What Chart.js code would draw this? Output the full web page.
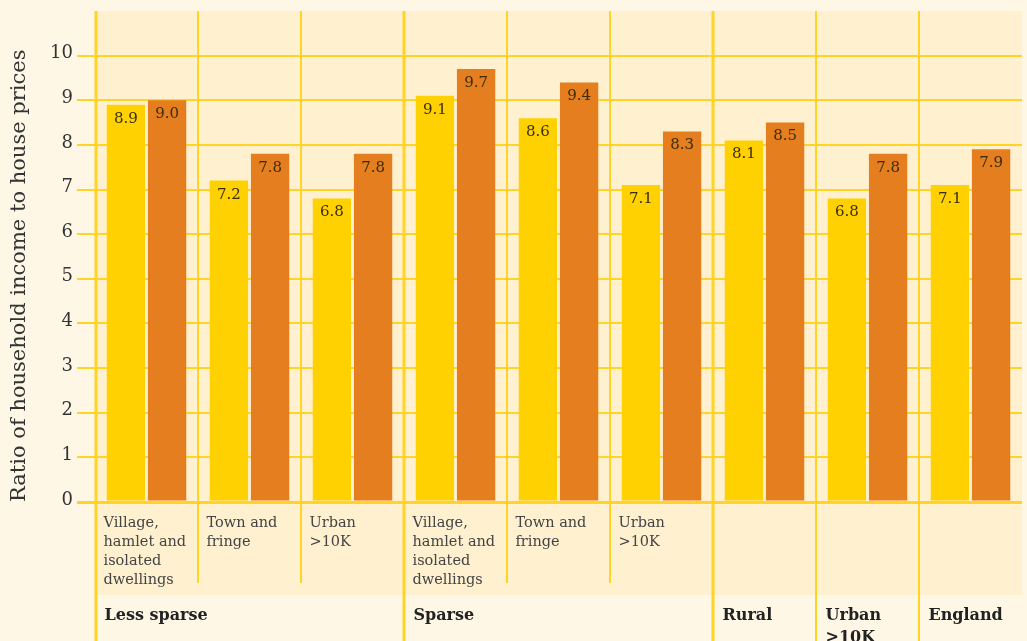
<!DOCTYPE html>
<html>
<head>
<meta charset="utf-8">
<script src="https://cdn.jsdelivr.net/npm/chart.js@4"></script>
<style>
  html, body { margin: 0; padding: 0; background: #FEF7E5; }
  #grafica { width: 1027px; height: 641px; }
</style>
</head>
<body>
<div id="grafica"><canvas id="myChart"></canvas></div>
<script>
const categories = [
  ["Village,", "hamlet and", "isolated", "dwellings"],
  ["Town and", "fringe"],
  ["Urban", ">10K"],
  ["Village,", "hamlet and", "isolated", "dwellings"],
  ["Town and", "fringe"],
  ["Urban", ">10K"],
  "",
  "",
  ""
];
const groups = ["Less sparse", "", "", "Sparse", "", "", "Rural", ["Urban", ">10K"], "England"];
const seriesYellow = [8.9, 7.2, 6.8, 9.1, 8.6, 7.1, 8.1, 6.8, 7.1];
const seriesOrange = [9.0, 7.8, 7.8, 9.7, 9.4, 8.3, 8.5, 7.8, 7.9];
const yTicks = [0, 1, 2, 3, 4, 5, 6, 7, 8, 9, 10];
// index of the first category in each group
const groupStarts = [0, 3, 6, 7, 8];

const FONT = "'DejaVu Serif', serif";
const LINE = "#FFD424";

const backdrop = {
  id: "backdrop",
  beforeDraw(chart) {
    const { ctx, chartArea: a } = chart;
    const xs = chart.scales.x;
    ctx.save();
    ctx.fillStyle = "#FEF7E5";
    ctx.fillRect(0, 0, chart.width, chart.height);
    ctx.fillStyle = "#FFF1D0";
    ctx.fillRect(a.left, a.top, a.right - a.left, xs.bottom - a.top);
    ctx.restore();
  },
  beforeDatasetsDraw(chart) {
    const { ctx, chartArea: a } = chart;
    const xs = chart.scales.x;
    ctx.save();
    ctx.strokeStyle = LINE;
    for (let i = 0; i < categories.length; i++) {
      const x = i === 0 ? a.left + 1 : (xs.getPixelForValue(i - 1) + xs.getPixelForValue(i)) / 2;
      const full = groupStarts.includes(i);
      const major = i === 0 || i === 3 || i === 6;
      ctx.lineWidth = major ? 3 : 2;
      ctx.beginPath();
      ctx.moveTo(x, a.top);
      ctx.lineTo(x, full ? chart.height : xs.bottom - 12);
      ctx.stroke();
    }
    ctx.restore();
  },
  afterDatasetsDraw(chart) {
    const { ctx } = chart;
    ctx.save();
    ctx.font = "15px " + FONT;
    ctx.fillStyle = "#3a2c08";
    ctx.textAlign = "center";
    ctx.textBaseline = "middle";
    chart.data.datasets.forEach((ds, di) => {
      chart.getDatasetMeta(di).data.forEach((bar, i) => {
        ctx.fillText(ds.data[i].toFixed(1), bar.x, bar.y + 14);
      });
    });
    ctx.restore();
  }
};

function noPad(s) {
  s.paddingLeft = 0;
  s.paddingRight = 0;
  s.paddingTop = 0;
  s.paddingBottom = 0;
}

const ctx = document.getElementById("myChart");
new Chart(ctx, {
  type: "bar",
  data: {
    labels: categories,
    datasets: [
      { label: "A", data: seriesYellow, backgroundColor: "#FFD100" },
      { label: "B", data: seriesOrange, backgroundColor: "#E57E1E" }
    ]
  },
  plugins: [backdrop],
  options: {
    responsive: true,
    maintainAspectRatio: false,
    animation: false,
    categoryPercentage: 0.8,
    barPercentage: 0.93,
    layout: { padding: { top: 11, right: 5, left: 0, bottom: 0 } },
    plugins: {
      legend: { display: false },
      tooltip: { enabled: false }
    },
    scales: {
      y: {
        min: 0,
        max: 11,
        afterBuildTicks: (s) => { s.ticks = yTicks.map(v => ({ value: v })); },
        afterFit: (s) => { s.width = 95; noPad(s); },
        border: { display: false },
        grid: {
          color: LINE,
          lineWidth: (c) => (c.tick && c.tick.value === 0 ? 3 : 2),
          tickLength: 18
        },
        ticks: {
          color: "#333",
          padding: 4,
          labelOffset: -2,
          font: { family: FONT, size: 18 }
        },
        title: {
          display: true,
          text: "Ratio of household income to house prices",
          align: "start",
          color: "#333",
          padding: { top: 7, bottom: 0 },
          font: { family: FONT, size: 21 }
        }
      },
      x: {
        weight: 0,
        afterFit: (s) => { s.height = 93; noPad(s); },
        border: { display: false },
        grid: { display: false, drawTicks: false },
        ticks: {
          autoSkip: false,
          maxRotation: 0,
          align: "start",
          labelOffset: -43,
          padding: 12,
          color: "#444",
          font: { family: FONT, size: 14.5, lineHeight: 1.31 }
        }
      },
      x2: {
        type: "category",
        labels: groups,
        offset: true,
        weight: 1,
        position: "bottom",
        afterFit: (s) => { s.height = 46; noPad(s); },
        border: { display: false },
        grid: { display: false, drawTicks: false },
        ticks: {
          autoSkip: false,
          maxRotation: 0,
          align: "start",
          labelOffset: -42,
          padding: 10,
          color: "#222",
          font: { family: FONT, size: 16, weight: "bold", lineHeight: 1.35 }
        }
      }
    }
  }
});
</script>
</body>
</html>
